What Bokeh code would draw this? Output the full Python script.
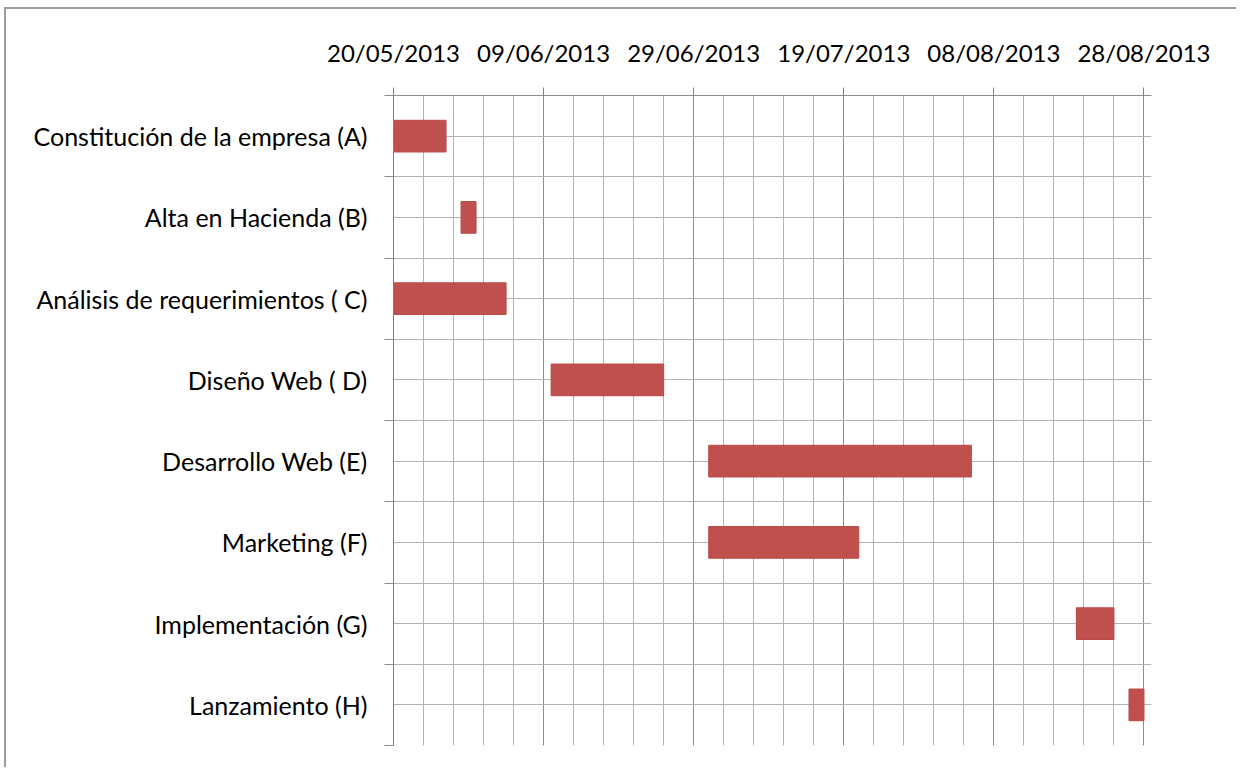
from datetime import datetime, timedelta
import pandas as pd
from bokeh.plotting import figure
from bokeh.models import FixedTicker, DatetimeTickFormatter, ColumnDataSource, Range1d
from bokeh.embed import file_html
from bokeh.resources import INLINE

# ---- data ----
tasks = [
    "Constitución de la empresa (A)",
    "Alta en Hacienda (B)",
    "Análisis de requerimientos ( C)",
    "Diseño Web ( D)",
    "Desarrollo Web (E)",
    "Marketing (F)",
    "Implementación (G)",
    "Lanzamiento (H)",
]
start_dates = ["2013-05-20", "2013-05-29", "2013-05-20", "2013-06-10",
               "2013-07-01", "2013-07-01", "2013-08-19", "2013-08-26"]
durations = [7, 2, 15, 15, 35, 20, 5, 2]  # days
tick_dates = ["2013-05-20", "2013-06-09", "2013-06-29",
              "2013-07-19", "2013-08-08", "2013-08-28"]

starts = [pd.Timestamp(s) for s in start_dates]
ends = [s + pd.Timedelta(days=d) for s, d in zip(starts, durations)]
ypos = [i + 0.5 for i in range(len(tasks))]

src = ColumnDataSource(dict(left=starts, right=ends, y=ypos, task=tasks))

def ms(ts):
    return pd.Timestamp(ts).value / 1e6

major_ticks = [ms(t) for t in tick_dates]
minor_ticks = [ms(t) for t in pd.date_range(tick_dates[0], tick_dates[-1], freq="4D")]

FONT = "Lato"

p = figure(
    width=1232, height=760,
    x_axis_type="datetime", x_axis_location="above",
    x_range=Range1d(pd.Timestamp(tick_dates[0]), pd.Timestamp(tick_dates[-1]) + pd.Timedelta(days=1)),
    y_range=Range1d(len(tasks), 0),
    output_backend="svg", toolbar_location=None,
    min_border_left=387, min_border_top=86, min_border_right=87, min_border_bottom=24,
)
p.styles = {"margin-left": "4px", "margin-top": "7px",
            "border-left": "2px solid #9c9c9c", "border-top": "2px solid #9c9c9c"}
p.outline_line_color = None
p.background_fill_color = "white"
p.border_fill_color = "white"

p.hbar(y="y", left="left", right="right", height=0.39, source=src,
       fill_color="#C0504D", line_color="#B94A47", line_width=1)

# x axis (top)
xa = p.xaxis[0]
xa.ticker = FixedTicker(ticks=major_ticks, minor_ticks=minor_ticks)
fmt = "%d/%m/%Y"
xa.formatter = DatetimeTickFormatter(microseconds=fmt, milliseconds=fmt, seconds=fmt,
                                     minsec=fmt, minutes=fmt, hourmin=fmt, hours=fmt,
                                     days=fmt, months=fmt, years=fmt)
xa.major_label_text_font = FONT
xa.major_label_text_font_size = "24px"
xa.major_label_text_color = "#000000"
xa.major_label_standoff = 21
xa.major_tick_out = 8
xa.major_tick_in = 0
xa.minor_tick_out = 0
xa.minor_tick_in = 0
xa.major_tick_line_color = "#7f7f7f"
xa.axis_line_color = "#8c8c8c"

# y axis (left)
ya = p.yaxis[0]
ya.ticker = FixedTicker(ticks=ypos, minor_ticks=list(range(len(tasks) + 1)))
ya.major_label_overrides = {y: t for y, t in zip(ypos, tasks)}
ya.major_label_text_font = FONT
ya.major_label_text_font_size = "25px"
ya.major_label_text_color = "#000000"
ya.major_label_standoff = 17
ya.major_tick_line_color = None
ya.major_tick_out = 0
ya.major_tick_in = 0
ya.minor_tick_out = 9
ya.minor_tick_in = 0
ya.minor_tick_line_color = "#8c8c8c"
ya.axis_line_color = "#7f7f7f"

# grids
p.xgrid.grid_line_color = "#8c8c8c"
p.xgrid.minor_grid_line_color = "#b3b3b3"
p.ygrid.grid_line_color = "#b3b3b3"
p.ygrid.minor_grid_line_color = "#b3b3b3"
p.xgrid.level = "underlay"
p.ygrid.level = "underlay"

open("out.html", "w").write(file_html(p, INLINE))
